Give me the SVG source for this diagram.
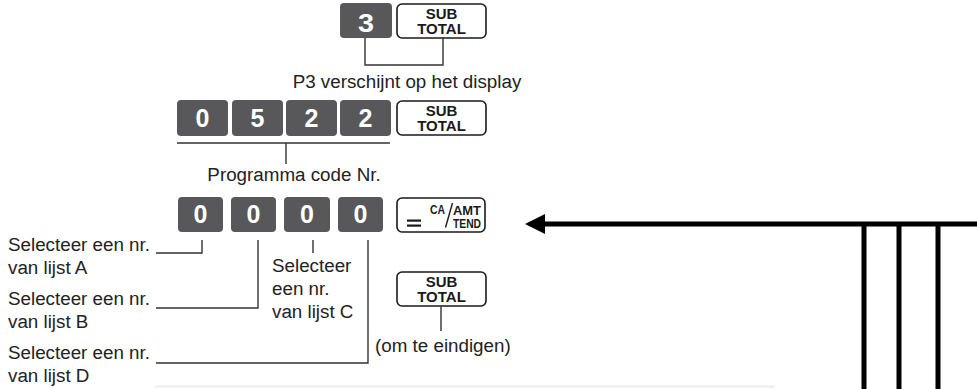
<svg xmlns="http://www.w3.org/2000/svg" width="977" height="389" viewBox="0 0 977 389">
<style>
.key{fill:#58585a}
.dig{font-family:"Liberation Sans",Arial,sans-serif;font-weight:bold;font-size:25px;fill:#fff;text-anchor:middle}
.wkey{fill:#fff;stroke:#1a1a1a;stroke-width:1.6}
.kt{font-family:"Liberation Sans",Arial,sans-serif;font-weight:bold;font-size:15px;fill:#1a1a1a;text-anchor:middle}
.sm{font-family:"Liberation Sans",Arial,sans-serif;font-weight:bold;fill:#1a1a1a}
.lbl{font-family:"Liberation Sans",Arial,sans-serif;font-size:18.8px;fill:#222}
.ln{fill:none;stroke:#333;stroke-width:1.4}
.thick{fill:none;stroke:#000;stroke-width:5}
</style>
<defs>
<g id="subtotal">
<rect class="wkey" x="0" y="0" width="89" height="34" rx="5"/>
<text class="kt" x="44.5" y="14.5">SUB</text>
<text class="kt" x="44.5" y="30">TOTAL</text>
</g>
</defs>

<g id="row1">
<g id="key-3"><rect class="key" x="340" y="3" width="52" height="35" rx="4"/><text class="dig" x="366" y="32" font-size="27" textLength="16" lengthAdjust="spacingAndGlyphs">3</text></g>
<g id="subtotal-1"><use href="#subtotal" x="397" y="4"/></g>
<text id="label-p3" class="lbl" x="407" y="88" text-anchor="middle">P3 verschijnt op het display</text>
</g>

<g id="row2">
<g id="key-0a"><rect class="key" x="177" y="100" width="51" height="36" rx="4"/><text class="dig" x="202.5" y="127">0</text></g>
<g id="key-5"><rect class="key" x="232" y="100" width="51" height="36" rx="4"/><text class="dig" x="257.5" y="127">5</text></g>
<g id="key-2a"><rect class="key" x="286" y="100" width="51" height="36" rx="4"/><text class="dig" x="311.5" y="127">2</text></g>
<g id="key-2b"><rect class="key" x="340" y="100" width="51" height="36" rx="4"/><text class="dig" x="365.5" y="127">2</text></g>
<g id="subtotal-2"><use href="#subtotal" x="397" y="101"/></g>
<text id="label-code" class="lbl" x="294" y="181" text-anchor="middle">Programma code Nr.</text>
</g>

<g id="row3">
<g id="key-0-1"><rect class="key" x="178" y="197" width="45" height="35" rx="4"/><text class="dig" x="200.5" y="223">0</text></g>
<g id="key-0-2"><rect class="key" x="231" y="197" width="45" height="35" rx="4"/><text class="dig" x="253.5" y="223">0</text></g>
<g id="key-0-3"><rect class="key" x="284" y="197" width="46" height="35" rx="4"/><text class="dig" x="307" y="223">0</text></g>
<g id="key-0-4"><rect class="key" x="338" y="197" width="45" height="35" rx="4"/><text class="dig" x="360.5" y="223">0</text></g>
<g id="key-ca">
<rect class="wkey" x="397" y="198" width="88" height="34" rx="5"/>
<rect x="407" y="219.5" width="14" height="2.2" fill="#1a1a1a"/>
<rect x="407" y="224.5" width="14" height="2.2" fill="#1a1a1a"/>
<text class="sm" x="430" y="213.5" font-size="13" textLength="15" lengthAdjust="spacingAndGlyphs">CA</text>
<line x1="445.5" y1="227.5" x2="452.5" y2="203" stroke="#1a1a1a" stroke-width="1.4"/>
<text class="sm" x="453" y="215" font-size="13.5" textLength="28" lengthAdjust="spacingAndGlyphs">AMT</text>
<text class="sm" x="453" y="228" font-size="12.5" textLength="28" lengthAdjust="spacingAndGlyphs">TEND</text>
</g>
<g id="subtotal-3"><use href="#subtotal" x="397" y="272"/></g>
<text id="label-end" class="lbl" x="375" y="352">(om te eindigen)</text>
</g>

<g id="labels">
<text class="lbl" x="8" y="251">Selecteer een nr.</text>
<text class="lbl" x="8" y="274">van lijst A</text>
<text class="lbl" x="8" y="305">Selecteer een nr.</text>
<text class="lbl" x="8" y="328">van lijst B</text>
<text class="lbl" x="8" y="359">Selecteer een nr.</text>
<text class="lbl" x="8" y="382">van lijst D</text>
<text class="lbl" x="272" y="272">Selecteer</text>
<text class="lbl" x="272" y="295">een nr.</text>
<text class="lbl" x="272" y="318">van lijst C</text>
</g>

<g id="connectors">
<path class="ln" d="M365,38 V65 H443 V38"/>
<path class="ln" d="M177,143 H390 M286,143 V164"/>
<path class="ln" d="M156,253 H202 V240"/>
<path class="ln" d="M156,308 H258 V240"/>
<path class="ln" d="M313,240 V253"/>
<path class="ln" d="M156,363 H368 V240"/>
<path class="ln" d="M441,306 V331"/>
<path class="thick" d="M540,224 H977"/>
<polygon points="525,224 545,214 545,234" fill="#000"/>
<path class="thick" d="M864,224 V389 M899,224 V389 M938,224 V389"/>
<line x1="155" y1="386.5" x2="775" y2="386.5" stroke="#ececec" stroke-width="2"/>
</g>
</svg>
